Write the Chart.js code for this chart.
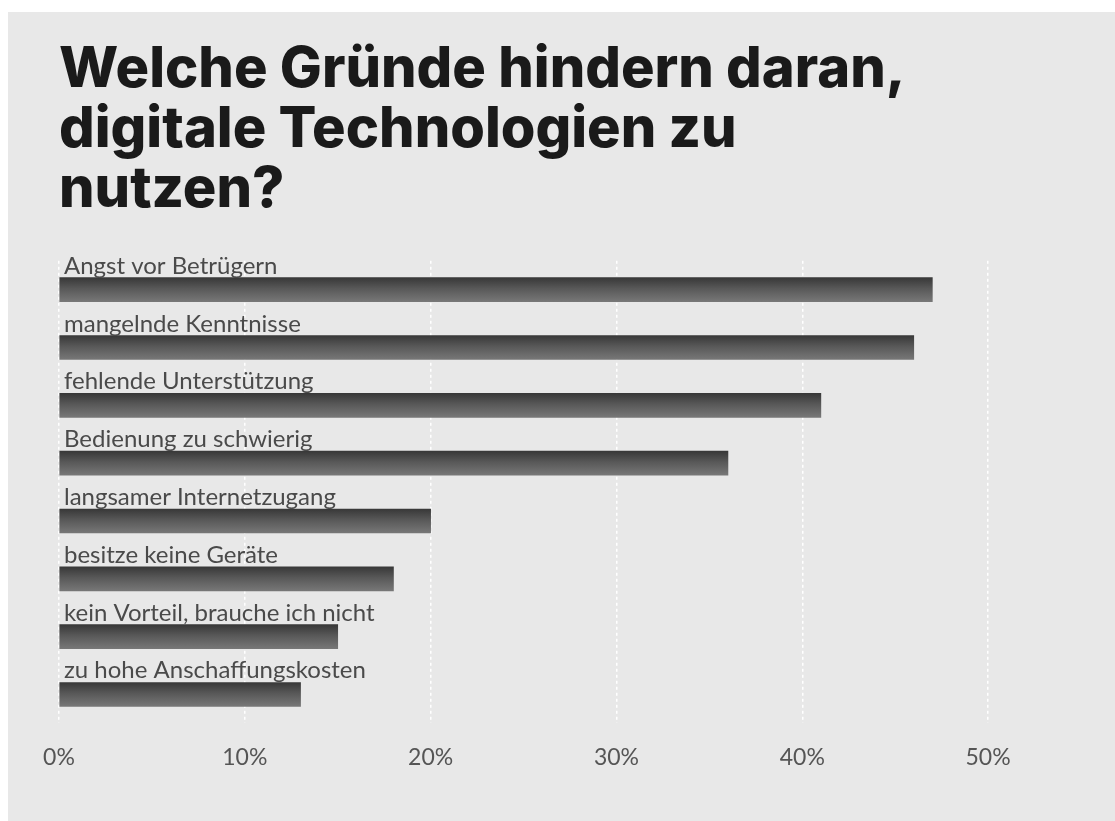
<!DOCTYPE html>
<html lang="de">
<head>
<meta charset="utf-8">
<title>Gründe gegen digitale Technologien</title>
<script src="https://cdn.jsdelivr.net/npm/chart.js@4.4.1/dist/chart.umd.min.js"></script>
<style>
  html, body { margin: 0; padding: 0; background: #ffffff; }
  #panel {
    position: absolute;
    left: 8px;
    top: 12px;
    width: 1107px;
    height: 809px;
    background: #e8e8e8;
  }
</style>
</head>
<body>
<div id="panel"><canvas id="reasonsChart"></canvas></div>
<script>
const titleLines = ['Welche Gründe hindern daran,', 'digitale Technologien zu', 'nutzen?'];
const reasons = [
    'Angst vor Betrügern',
    'mangelnde Kenntnisse',
    'fehlende Unterstützung',
    'Bedienung zu schwierig',
    'langsamer Internetzugang',
    'besitze keine Geräte',
    'kein Vorteil, brauche ich nicht',
    'zu hohe Anschaffungskosten'
];
const shares = [47, 46, 41, 36, 20, 18, 15, 13];
const xTicks = [0, 10, 20, 30, 40, 50];

const BAR_THICKNESS = 24;

// vertical dark-to-light gradient, built per bar from its category pixel
function barGradient(context) {
    const chart = context.chart;
    const yScale = chart.scales.y;
    if (!chart.chartArea || !yScale) return '#555555';
    const mid = yScale.getPixelForValue(context.dataIndex);
    const top = mid - BAR_THICKNESS / 2;
    const g = chart.ctx.createLinearGradient(0, top, 0, top + BAR_THICKNESS);
    g.addColorStop(0, '#383838');
    g.addColorStop(0.45, '#585858');
    g.addColorStop(1, '#777777');
    return g;
}

// category names sit just above their bar
const barLabels = {
    id: 'barLabels',
    afterDatasetsDraw(chart) {
        const ctx = chart.ctx;
        const left = chart.chartArea.left;
        ctx.save();
        ctx.font = '24px Lato';
        ctx.fillStyle = '#4a4a4a';
        ctx.textAlign = 'left';
        ctx.textBaseline = 'alphabetic';
        chart.getDatasetMeta(0).data.forEach((bar, i) => {
            ctx.fillText(reasons[i], left + 5, bar.y - bar.height / 2 - 4);
        });
        ctx.restore();
    }
};

new Chart(document.getElementById('reasonsChart'), {
    type: 'bar',
    data: {
        labels: reasons,
        datasets: [{
            data: shares,
            backgroundColor: barGradient,
            borderWidth: 0,
            barThickness: BAR_THICKNESS
        }]
    },
    options: {
        indexAxis: 'y',
        responsive: true,
        maintainAspectRatio: false,
        animation: false,
        layout: { padding: { left: 51, right: 34, bottom: 30 } },
        plugins: {
            legend: { display: false },
            tooltip: { enabled: false },
            title: {
                display: true,
                text: titleLines,
                align: 'start',
                color: '#1a1a1a',
                font: { family: 'Inter', size: 56, weight: '800', lineHeight: 1.07 },
                padding: { top: 28, bottom: 41 }
            }
        },
        scales: {
            x: {
                min: 0,
                max: 55,
                afterBuildTicks(scale) {
                    scale.ticks = xTicks.map(v => ({ value: v }));
                },
                border: { display: false, dash: [3, 3] },
                grid: {
                    color: '#ffffff',
                    lineWidth: 1.5,
                    drawTicks: false
                },
                ticks: {
                    padding: 20,
                    color: '#555555',
                    font: { family: 'Lato', size: 23 },
                    callback: v => v + '%'
                }
            },
            y: {
                display: false
            }
        }
    },
    plugins: [barLabels]
});
</script>
</body>
</html>
